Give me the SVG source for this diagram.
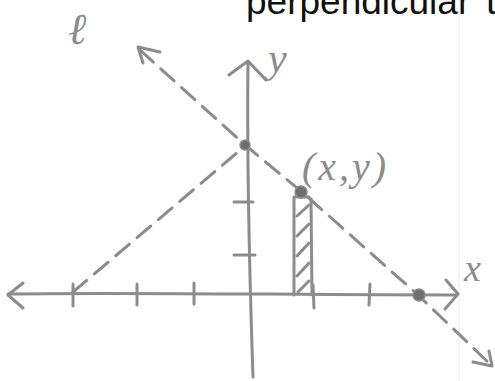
<svg xmlns="http://www.w3.org/2000/svg" width="495" height="381" viewBox="0 0 495 381">
  <style>
    .pen { fill: none; stroke: #8c8c8c; stroke-width: 3; stroke-linecap: round; stroke-linejoin: round; }
    .dash { stroke-dasharray: 18 10; }
    .dot { fill: #6e6e6e; stroke: #8c8c8c; stroke-width: 1.5; }
    .hand { fill: #8c8c8c; font-family: "Liberation Serif", serif; font-style: italic; }
    .title { fill: #111; font-family: "Liberation Sans", Arial, sans-serif; font-size: 37px; }
  </style>
  <rect width="495" height="381" fill="#ffffff"/>
  <line x1="459" y1="0" x2="459" y2="381" stroke="#ececec" stroke-width="1"/>

  <text class="title" y="14"><tspan x="246">perpendicular</tspan><tspan x="486">to</tspan></text>

  <g id="x-axis">
    <path class="pen" d="M8,294 C120,292 300,295 457,295"/>
    <path class="pen" d="M23,283 L8,295 L23,308"/>
    <path class="pen" d="M446,280 L458,294 L445,309"/>
    <path class="pen" d="M73,284 L73,306 M137,284 L137,305 M194,283 L194,304 M313,285 L314,308 M370,284 L369,305"/>
    <text class="hand" x="464" y="281" font-size="38">x</text>
  </g>

  <g id="y-axis">
    <path class="pen" d="M248,62 C247,150 249,260 253,377"/>
    <path class="pen" d="M229,75 L248,61 L266,80"/>
    <path class="pen" d="M234,202 L253,202 M234,255 L255,255"/>
    <text class="hand" x="268" y="72" font-size="42">y</text>
  </g>

  <g id="connectors">
    <path class="pen dash" d="M140,50 L245,145 L302,192 L418,295 L490,364"/>
    <path class="pen" d="M160,52 L138,47 L143,63"/>
    <path class="pen" d="M473,362 L492,366 L489,351"/>
    <path class="pen dash" d="M73,292 L245,146"/>
  </g>

  <g id="label-l">
    <text class="hand" x="68" y="44" font-size="44" font-family="DejaVu Serif">ℓ</text>
  </g>

  <g id="strip">
    <path class="pen" d="M294,197 L294,295 M311,199 L312,295 M294,197 L309,197"/>
    <path class="pen" d="M297,216 L309,205 M297,236 L309,224 M297,256 L309,243 M297,276 L309,263 M298,292 L309,281"/>
  </g>

  <g id="points">
    <circle class="dot" cx="245" cy="145" r="5"/>
    <circle class="dot" cx="301" cy="192" r="6"/>
    <circle class="dot" cx="419" cy="295" r="6"/>
    <text class="hand" x="302" y="180" font-size="40" letter-spacing="3">(x,y)</text>
  </g>
</svg>
